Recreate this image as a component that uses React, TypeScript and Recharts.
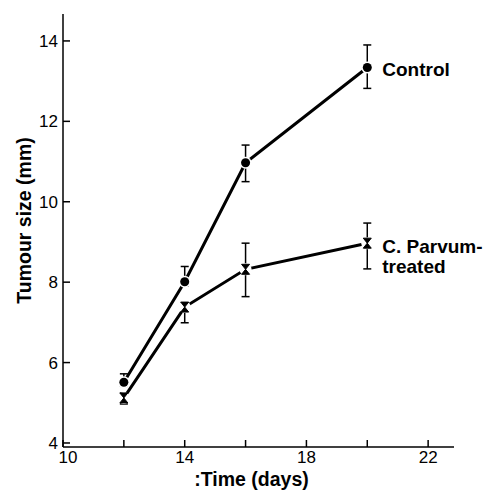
import { LineChart, Line, XAxis, YAxis, ErrorBar, LabelList } from "recharts";

// days after implant
const days = [12, 14, 16, 20];
// mean tumour size (mm) with [lower, upper] error
const control = [5.51, 8.01, 10.97, 13.34];
const controlErr = [[0.1, 0.21], [0.1, 0.38], [0.47, 0.44], [0.52, 0.56]];
const treated = [5.12, 7.38, 8.32, 8.97];
const treatedErr = [[0.15, 0.12], [0.39, 0.1], [0.68, 0.65], [0.64, 0.5]];

const xTicks = [10, 12, 14, 16, 18, 20, 22];
const xLabelled = [10, 14, 18, 22];
const yTicks = [4, 6, 8, 10, 12, 14];

const font = '"Liberation Sans", Arial, sans-serif';

const rows = days.map((day, i) => ({
  day,
  control: control[i],
  controlErr: controlErr[i],
  treated: treated[i],
  treatedErr: treatedErr[i],
}));

function XTick({ x, y, payload }: any) {
  // first label sits a little right of the corner
  const dx = payload.value === xTicks[0] ? 5 : 0;
  return (
    <g>
      <line x1={x} y1={y} x2={x} y2={y - 7} stroke="#000" strokeWidth={1.5} />
      {xLabelled.includes(payload.value) && (
        <text x={x + dx} y={y + 16} textAnchor="middle" fontSize={17} fontFamily={font} fill="#000">
          {payload.value}
        </text>
      )}
    </g>
  );
}

function YTick({ x, y, payload }: any) {
  return (
    <g>
      <line x1={x} y1={y} x2={x + 7} y2={y} stroke="#000" strokeWidth={1.5} />
      <text x={x - 5} y={y + 6} textAnchor="end" fontSize={17} fontFamily={font} fill="#000">
        {payload.value}
      </text>
    </g>
  );
}

const haloDot = (p: any) => <circle key={p.index} cx={p.cx} cy={p.cy} r={6} fill="#fff" />;
const circleDot = (p: any) => <circle key={p.index} cx={p.cx} cy={p.cy} r={4.5} fill="#000" />;
const crossDot = (p: any) => (
  <path
    key={p.index}
    d={`M${p.cx - 4},${p.cy - 5} H${p.cx + 4} L${p.cx - 4},${p.cy + 5} H${p.cx + 4} Z`}
    fill="#000"
    stroke="#000"
    strokeWidth={1}
  />
);

const seriesText = { fontSize: 19, fontWeight: "bold" as const, fontFamily: font, fill: "#000" };
const titleText = { ...seriesText, fontSize: 19.5 };

export default function App() {
  return (
    <div style={{ position: "absolute", left: 0, top: 0, background: "#fff" }}>
      <LineChart width={490} height={490} data={rows} margin={{ top: 14, right: 36, bottom: 0, left: 18 }}>
        <XAxis
          type="number"
          dataKey="day"
          domain={[10, 22.85]}
          ticks={xTicks}
          allowDataOverflow
          height={43}
          tickSize={0}
          tickMargin={0}
          tickLine={false}
          axisLine={{ stroke: "#000", strokeWidth: 1.5 }}
          tick={(p: any) => <XTick {...p} />}
          label={{
            content: (lp: any) => {
              const vb = lp.viewBox;
              return (
                <text x={vb.x + vb.width / 2 - 7} y={vb.y + 39} textAnchor="middle" {...titleText}>
                  :Time (days)
                </text>
              );
            },
          }}
        />
        <YAxis
          type="number"
          domain={[3.9, 14.67]}
          ticks={yTicks}
          allowDataOverflow
          width={45}
          tickSize={0}
          tickMargin={0}
          tickLine={false}
          axisLine={{ stroke: "#000", strokeWidth: 1.5 }}
          tick={(p: any) => <YTick {...p} />}
          label={{
            content: (lp: any) => {
              const vb = lp.viewBox;
              const cx = vb.x + 13;
              const cy = vb.y + vb.height / 2 - 10;
              return (
                <text transform={`translate(${cx},${cy}) rotate(-90)`} textAnchor="middle" {...titleText}>
                  Tumour size (mm)
                </text>
              );
            },
          }}
        />

        <Line dataKey="control" stroke="#000" strokeWidth={3} dot={false} activeDot={false} isAnimationActive={false} />
        <Line dataKey="treated" stroke="#000" strokeWidth={3} dot={false} activeDot={false} isAnimationActive={false} />

        <Line dataKey="control" stroke="none" dot={haloDot} activeDot={false} isAnimationActive={false} />
        <Line dataKey="treated" stroke="none" dot={haloDot} activeDot={false} isAnimationActive={false} />

        <Line dataKey="control" stroke="none" dot={circleDot} activeDot={false} isAnimationActive={false}>
          <ErrorBar dataKey="controlErr" direction="y" width={4} stroke="#000" strokeWidth={1.5} isAnimationActive={false} />
          <LabelList
            dataKey="control"
            content={(p: any) =>
              p.index === days.length - 1 ? (
                <text x={p.x + 15} y={p.y + 9} {...seriesText}>
                  Control
                </text>
              ) : null
            }
          />
        </Line>
        <Line dataKey="treated" stroke="none" dot={crossDot} activeDot={false} isAnimationActive={false}>
          <ErrorBar dataKey="treatedErr" direction="y" width={4} stroke="#000" strokeWidth={1.5} isAnimationActive={false} />
          <LabelList
            dataKey="treated"
            content={(p: any) =>
              p.index === days.length - 1 ? (
                <text x={p.x + 15} y={p.y + 10} {...seriesText}>
                  <tspan x={p.x + 15}>C. Parvum-</tspan>
                  <tspan x={p.x + 15} dy={19.5}>treated</tspan>
                </text>
              ) : null
            }
          />
        </Line>
      </LineChart>
    </div>
  );
}
